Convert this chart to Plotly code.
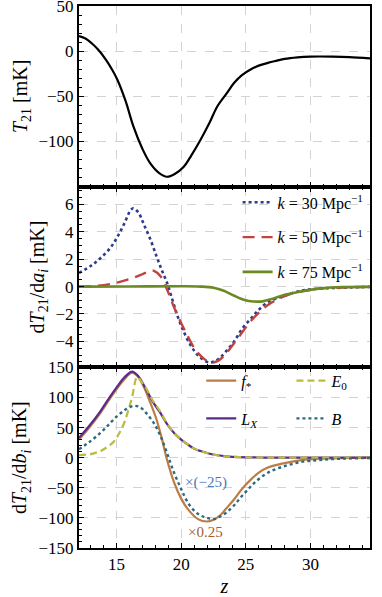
import plotly.graph_objects as go
from plotly.subplots import make_subplots

# ---- data ----
# top panel: global signal T21(z)
z_t21 = [12.1, 12.6, 13.1, 13.5, 13.8, 14.2, 14.6, 15.05, 15.7, 16.3, 17.0, 17.6, 18.3, 18.9,
         19.5, 20.2, 20.8, 21.5, 22.2, 22.8, 23.5, 24.1, 24.7, 25.4, 26.0, 26.7, 27.4, 28.0,
         29.0, 30.0, 31.7, 33.0, 34.6]
t21 = [16.7, 14, 8.5, 3, -2, -10, -19, -31, -55, -83, -108, -124, -135, -139,
       -136, -128, -115, -98, -79, -61, -47, -35, -26.5, -20, -16, -13, -10.5, -8.5,
       -6.8, -6, -6, -6.5, -8]

# middle panel: derivatives w.r.t. a_i
z_k30 = [12.1, 13.0, 13.75, 14.5, 15.05, 15.6, 16.1, 16.3, 16.7, 17.1, 17.6, 18.1, 18.5, 18.9,
         19.3, 19.7, 20.2, 20.7, 21.1, 21.5, 22.15, 22.6, 23.0, 23.5, 24.1, 24.7, 25.4, 26.0,
         26.7, 28.0, 29.3, 30.6, 31.9, 34.6]
d_k30 = [1.0, 1.5, 2.07, 2.8, 3.6, 4.6, 5.6, 5.72, 5.4, 4.57, 3.5, 2.2, 1.2, 0.29,
         -0.9, -2.1, -3.3, -4.24, -4.8, -5.19, -5.55, -5.45, -5.2, -4.7, -4.0, -3.1, -2.33, -1.7,
         -1.14, -0.67, -0.3, -0.15, -0.1, -0.02]
z_k50 = [12.1, 13.5, 15.05, 16.3, 17.0, 17.6, 17.9, 18.4, 18.9, 19.4, 19.95, 20.5, 21.0, 21.4,
         21.8, 22.3, 22.8, 23.3, 23.8, 24.4, 25.4, 26.7, 28.0, 29.3, 31.0, 34.6]
d_k50 = [0, 0.05, 0.29, 0.64, 0.9, 1.15, 1.15, 0.76, -0.19, -1.4, -2.57, -3.6, -4.48, -4.95,
         -5.3, -5.55, -5.45, -5.07, -4.5, -3.76, -2.5, -1.35, -0.7, -0.35, -0.12, -0.02]
z_k75 = [12.1, 16.0, 20.0, 21.5, 22.5, 23.3, 24.1, 24.9, 25.6, 26.3, 27.1, 28.0, 29.3, 30.6, 32.0, 34.6]
d_k75 = [0, 0.01, 0.02, 0.0, -0.08, -0.3, -0.67, -0.98, -1.09, -1.08, -0.88, -0.6, -0.35, -0.15, -0.05, -0.02]

# bottom panel: derivatives w.r.t. b_i
z_fs = [12.1, 12.9, 13.75, 14.4, 15.05, 15.6, 16.2, 16.6, 17.1, 17.6, 18.1, 18.5, 18.9, 19.45,
        20.0, 20.5, 21.3, 22.0, 22.5, 23.0, 23.5, 24.1, 24.7, 25.4, 26.0, 26.7, 28.0, 29.3, 31.0, 34.6]
d_fs = [30, 50, 74, 95, 115, 130, 141, 136, 118, 92, 63, 32, -3, -41,
        -68, -85, -102, -106, -103, -96, -84, -69, -52, -36, -25, -16.5, -9, -4, -1.5, 0]
z_lx = [12.1, 12.9, 13.75, 14.4, 15.05, 15.6, 16.2, 16.7, 17.3, 17.8, 18.4, 18.9, 19.45, 20.0,
        20.5, 21.0, 21.5, 22.2, 22.8, 23.5, 24.5, 26.0, 28.0, 34.6]
d_lx = [33, 53, 77, 98, 118, 133, 143, 135, 113, 93, 74, 56, 41, 30,
        22, 15, 11, 6.5, 4, 2.2, 1, 0.3, 0, 0]
z_e0 = [12.1, 13.0, 13.75, 14.3, 14.8, 15.2, 15.6, 15.9, 16.2, 16.6, 17.0, 17.3, 17.8, 18.4,
        18.9, 19.45, 20.0, 20.5, 21.0, 21.5, 22.2, 22.8, 23.5, 24.5, 26.0, 28.0, 34.6]
d_e0 = [4, 6, 11, 18, 27, 40, 58, 78, 100, 134, 124, 115, 95, 76,
        57, 41, 30, 22, 15, 11, 6.5, 4, 2.2, 1, 0.3, 0, 0]
z_b = [12.1, 12.9, 13.75, 14.4, 15.05, 15.7, 16.3, 16.8, 17.3, 17.9, 18.4, 18.9, 19.45, 20.0,
       20.5, 21.0, 21.5, 22.0, 22.5, 23.0, 23.5, 24.1, 24.6, 25.2, 25.7, 26.7, 28.0, 29.3, 30.6, 32.0, 34.6]
d_b = [14, 26, 41, 55, 69, 80, 86, 84, 74, 57, 36, 8, -25, -52,
       -74, -88, -96, -100, -102, -98, -91, -79, -66, -52, -41, -25, -14, -7, -4, -2, -0.5]

FONT = "Liberation Serif"

fig = make_subplots(rows=3, cols=1, shared_xaxes=True, vertical_spacing=0)

# top panel
fig.add_trace(go.Scatter(x=z_t21, y=t21, mode="lines", line=dict(color="black", width=2.2, shape="spline"),
                         showlegend=False), row=1, col=1)

# middle panel
fig.add_trace(go.Scatter(x=z_k30, y=d_k30, mode="lines", name="<i>k</i> = 30 Mpc<sup>−1</sup>",
                         line=dict(color="#2e3b8c", width=2.6, dash="dot", shape="spline"),
                         legend="legend", legendgroup="a"), row=2, col=1)
fig.add_trace(go.Scatter(x=z_k50, y=d_k50, mode="lines", name="<i>k</i> = 50 Mpc<sup>−1</sup>",
                         line=dict(color="#c0433f", width=2.4, dash="12px,7px", shape="spline"),
                         legend="legend", legendgroup="b"), row=2, col=1)
fig.add_trace(go.Scatter(x=z_k75, y=d_k75, mode="lines", name="<i>k</i> = 75 Mpc<sup>−1</sup>",
                         line=dict(color="#6b8a22", width=2.6, shape="spline"),
                         legend="legend", legendgroup="c"), row=2, col=1)

# bottom panel
fig.add_trace(go.Scatter(x=z_fs, y=d_fs, mode="lines", name="<i>f</i><sub>*</sub>",
                         line=dict(color="#bb7d48", width=2.2, shape="spline"),
                         legend="legend2", legendgroup="d"), row=3, col=1)
fig.add_trace(go.Scatter(x=z_lx, y=d_lx, mode="lines", name="<i>L</i><sub><i>X</i></sub>",
                         line=dict(color="#5b2b8a", width=2.2, shape="spline"),
                         legend="legend2", legendgroup="e"), row=3, col=1)
fig.add_trace(go.Scatter(x=z_e0, y=d_e0, mode="lines", name="<i>E</i><sub>0</sub>",
                         line=dict(color="#b9bc3c", width=2.2, dash="7px,4px", shape="spline"),
                         legend="legend3", legendgroup="f"), row=3, col=1)
fig.add_trace(go.Scatter(x=z_b, y=d_b, mode="lines", name="<i>B</i>",
                         line=dict(color="#2b6b7c", width=2.4, dash="dot", shape="spline"),
                         legend="legend3", legendgroup="g"), row=3, col=1)

fig.add_annotation(x=21.9, y=-42, xref="x3", yref="y3", text="×(−25)", showarrow=False,
                   font=dict(family=FONT, size=15, color="#4a78b8"))
fig.add_annotation(x=21.9, y=-124, xref="x3", yref="y3", text="×0.25", showarrow=False,
                   font=dict(family=FONT, size=15, color="#a0622e"))

leg = dict(bgcolor="rgba(0,0,0,0)", font=dict(family=FONT, size=16),
           yanchor="top", xanchor="left")
fig.update_layout(
    width=382, height=597,
    plot_bgcolor="white", paper_bgcolor="white",
    font=dict(family=FONT, size=17, color="black"),
    margin=dict(l=79, r=12, t=6, b=49, autoexpand=False),
    legend=dict(leg, x=0.545, y=0.669, tracegroupgap=11),
    legend2=dict(leg, x=0.42, y=0.34, tracegroupgap=14),
    legend3=dict(leg, x=0.73, y=0.34, tracegroupgap=14),
)

# axes styling
for r in (1, 2, 3):
    fig.update_xaxes(
        range=[12.1, 34.6], showline=True, linecolor="black", linewidth=2,
        mirror=True if r == 1 else "ticks",
        ticks="inside", ticklen=5, tickcolor="black", tickvals=[15, 20, 25, 30],
        minor=dict(ticks="inside", dtick=1, ticklen=3, tickcolor="black", showgrid=False),
        showgrid=True, gridcolor="#d3d3d3", griddash="dash", gridwidth=1, automargin=False,
        zeroline=False, showticklabels=(r == 3), row=r, col=1)

fig.update_yaxes(range=[-150, 50], tickvals=[50, 0, -50, -100], ticktext=["50", "0", "−50", "−100"],
                 minor=dict(ticks="inside", dtick=10, ticklen=3, tickcolor="black", showgrid=False),
                 title=dict(text="<i>T</i><sub>21</sub> [mK]", standoff=6), row=1, col=1)
fig.update_yaxes(range=[-5.9, 7.3], tickvals=[6, 4, 2, 0, -2, -4], ticktext=["6", "4", "2", "0", "−2", "−4"],
                 minor=dict(ticks="inside", dtick=0.5, ticklen=3, tickcolor="black", showgrid=False),
                 title=dict(text="d<i>T</i><sub>21</sub>/d<i>a</i><sub><i>i</i></sub> [mK]", standoff=6),
                 row=2, col=1)
fig.update_yaxes(range=[-150, 150], tickvals=[150, 100, 50, 0, -50, -100, -150],
                 ticktext=["150", "100", "50", "0", "−50", "−100", "−150"],
                 minor=dict(ticks="inside", dtick=10, ticklen=3, tickcolor="black", showgrid=False),
                 title=dict(text="d<i>T</i><sub>21</sub>/d<i>b</i><sub><i>i</i></sub> [mK]", standoff=6),
                 row=3, col=1)
fig.update_yaxes(showline=True, linecolor="black", linewidth=2, mirror=True, automargin=False,
                 ticks="inside", ticklen=5, tickcolor="black", ticklabeloverflow="allow",
                 showgrid=True, gridcolor="#d3d3d3", griddash="dash", gridwidth=1, zeroline=False)
fig.update_xaxes(title=dict(text="<i>z</i>", standoff=18), row=3, col=1)

# page body has a default 8px margin; drop it so the figure sits at the window corner
fig.write_html("out.html", config={"displayModeBar": False},
               post_script="document.body.style.margin='0';")
